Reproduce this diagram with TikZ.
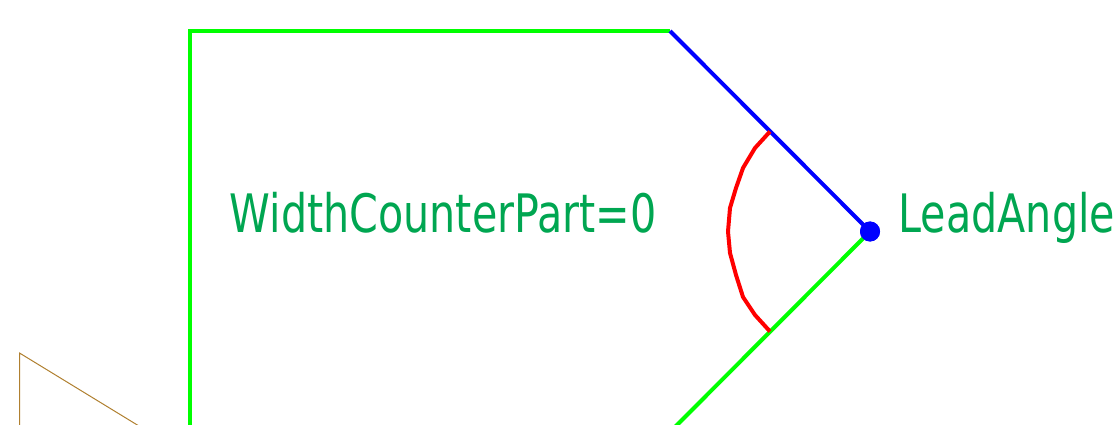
\documentclass[tikz,border=0pt]{standalone}
\usepackage{fontspec}
\setmainfont[FakeStretch=0.778]{DejaVu Sans}
\definecolor{labelgreen}{RGB}{0,166,81}
\definecolor{edgetan}{RGB}{176,128,48}
\begin{document}
\begin{tikzpicture}[x=1pt,y=-1pt,
    outline/.style={line width=4pt,green,line join=miter},
    lead/.style={line width=4pt,blue},
    anglearc/.style={line width=4pt,red,line join=round},
    thinedge/.style={line width=1pt,edgetan},
    label/.style={text=labelgreen,inner sep=0pt,font=\fontsize{53}{53}\selectfont,anchor=base west},
    tip/.style={circle,fill=blue,inner sep=0pt,minimum size=20pt},
  ]
\useasboundingbox (0,0) rectangle (1120,425);
\coordinate (bottomleft) at (189.7,430);
\coordinate (topleft) at (189.7,31);
\coordinate (topright) at (670,31);
\coordinate (bottomright) at (672,430);
\coordinate (arctop) at (770,131.5);
\coordinate (arcbottom) at (770,331.5);
\coordinate (tanbottom) at (19.5,430);
\coordinate (tantop) at (19.5,353);
\coordinate (tanright) at (145.5,430);
\node[tip] (apex) at (870,231.5) {};
\node[label] (width) at (229.5,232.5) {WidthCounterPart=0};
\node[label] (angle) at (898.5,232.5) {LeadAngle};
% contour
\draw[outline] (bottomleft) -- (topleft) -- (topright);
\draw[outline] (bottomright) -- (apex.center);
\draw[lead] (topright) -- (apex.center);
% angle mark
\draw[anglearc] (arctop) -- (755,148) -- (743,168) -- (736,188) -- (730,208) -- (728,231.5)
  -- (730,253) -- (736,275) -- (743,297) -- (755,315) -- (arcbottom);
\draw[thinedge] (tanbottom) -- (tantop) -- (tanright);
\node[tip] at (apex) {};
\end{tikzpicture}
\end{document}
